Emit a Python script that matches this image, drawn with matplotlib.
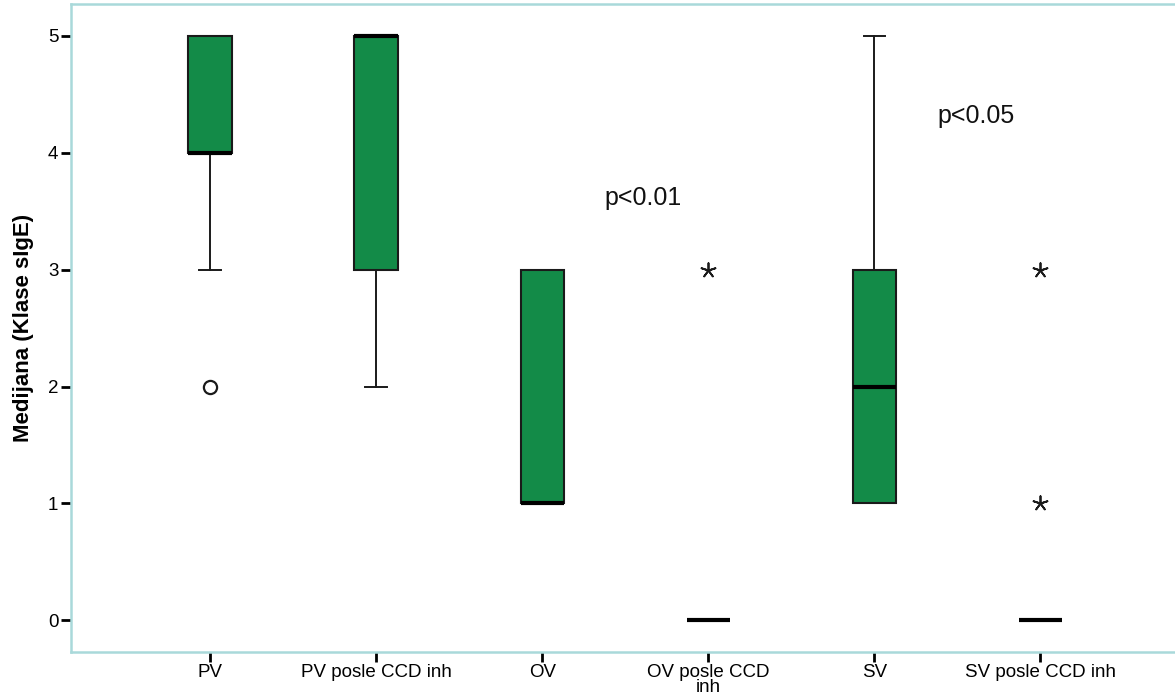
import matplotlib.pyplot as plt

# Kategorije i statistika kutija (ocitano sa slike)
kategorije = ['PV', 'PV posle CCD inh', 'OV', 'OV posle CCD\ninh', 'SV', 'SV posle CCD inh']
q1 = [4, 3, 1, 0, 1, 0]
medijana = [4, 5, 1, 0, 2, 0]
q3 = [5, 5, 3, 0, 3, 0]
donji_brk = [3, 2, 1, 0, 1, 0]
gornji_brk = [5, 5, 3, 0, 5, 0]

# Outlieri (krug) i ekstremi (zvezdica): (indeks kategorije, vrednost)
outlieri = [(0, 2)]
ekstremi = [(3, 3), (5, 3), (5, 1)]

# Tekst p-vrednosti
p_tekst = ['p<0.01', 'p<0.05']
p_x = [3.61, 5.61]
p_y = [3.61, 4.31]

plt.rcParams['font.family'] = ['Liberation Sans', 'DejaVu Sans']

zelena = '#138b48'
okvir = '#a9d9da'

fig = plt.figure(figsize=(11.75, 6.98), dpi=100)
ax = fig.add_axes([0.0604, 0.066, 0.9396, 0.928])

stats = []
for i, k in enumerate(kategorije):
    stats.append({'q1': q1[i], 'med': medijana[i], 'q3': q3[i],
                  'whislo': donji_brk[i], 'whishi': gornji_brk[i],
                  'fliers': [], 'label': k})

pozicije = list(range(1, len(kategorije) + 1))
ax.bxp(stats, positions=pozicije, widths=0.26, capwidths=0.13,
       patch_artist=True, showfliers=False,
       boxprops=dict(facecolor=zelena, edgecolor='#1a1a1a', linewidth=1.5),
       medianprops=dict(color='black', linewidth=3, solid_capstyle='butt'),
       whiskerprops=dict(color='#1a1a1a', linewidth=1.4),
       capprops=dict(color='#1a1a1a', linewidth=1.4))

ax.scatter([pozicije[i] for i, v in outlieri], [v for i, v in outlieri],
           marker='o', s=90, facecolors='white', edgecolors='#1a1a1a',
           linewidths=1.6, zorder=5)
ax.scatter([pozicije[i] for i, v in ekstremi], [v for i, v in ekstremi],
           marker=(5, 2, 0), s=110, color='#1a1a1a', linewidths=1.3, zorder=5)

for t, x, y in zip(p_tekst, p_x, p_y):
    ax.text(x, y, t, fontsize=18, ha='center', va='center', color='#111111')

ax.set_xlim(0.163, 6.81)
ax.set_ylim(-0.27, 5.27)
ax.set_xticks(pozicije)
ax.set_xticklabels(kategorije, fontsize=13.5, linespacing=0.8)
ax.set_yticks([0, 1, 2, 3, 4, 5])
ax.tick_params(axis='both', direction='out', length=7, width=2, color='black',
               labelsize=13.5, pad=2)
ax.set_ylabel('Medijana (Klase sIgE)', fontsize=16, fontweight='bold', labelpad=10)

for s in ['left', 'top', 'bottom']:
    ax.spines[s].set_color(okvir)
    ax.spines[s].set_linewidth(1.8)
ax.spines['right'].set_visible(False)

fig.savefig('out.png', dpi=100)
